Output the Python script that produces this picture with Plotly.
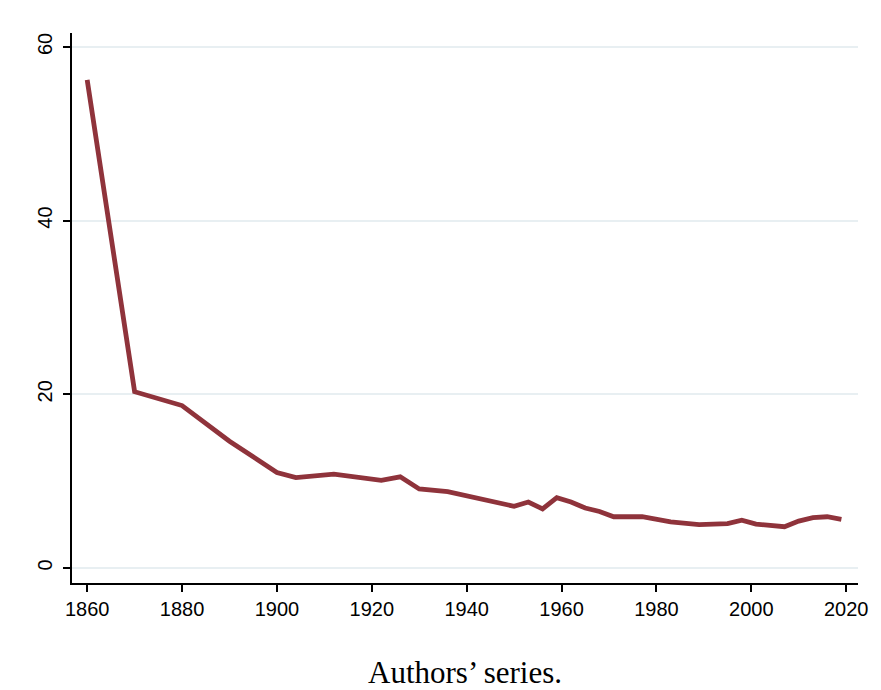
import plotly.graph_objects as go

years = [1860, 1870, 1880, 1890, 1900, 1904, 1912, 1922, 1926, 1930, 1936, 1950,
         1953, 1956, 1959, 1962, 1965, 1968, 1971, 1977, 1983, 1989, 1995, 1998,
         2001, 2007, 2010, 2013, 2016, 2019]
values = [56.2, 20.3, 18.7, 14.6, 11.0, 10.4, 10.8, 10.1, 10.5, 9.1, 8.8, 7.1,
          7.6, 6.8, 8.1, 7.6, 6.9, 6.5, 5.9, 5.9, 5.3, 5.0, 5.1, 5.5,
          5.05, 4.75, 5.4, 5.8, 5.9, 5.6]
x_ticks = [1860, 1880, 1900, 1920, 1940, 1960, 1980, 2000, 2020]
y_ticks = [0, 20, 40, 60]
caption = "Authors\u2019 series."

fig = go.Figure()
fig.add_trace(go.Scatter(x=years, y=values, mode="lines",
                         line=dict(color="#8f333b", width=4.8), showlegend=False))

fig.update_layout(
    width=881, height=690,
    margin=dict(l=72, r=23, t=33, b=107),
    paper_bgcolor="white", plot_bgcolor="white",
    font=dict(family="Liberation Sans, Arial, sans-serif", size=20, color="black"),
    xaxis=dict(range=[1856.8, 2022.5], tickvals=x_ticks, showgrid=False, zeroline=False,
               showline=True, linecolor="black", linewidth=1.5,
               ticks="outside", ticklen=7, tickwidth=1.5, tickcolor="black"),
    yaxis=dict(range=[-1.73, 61.6], tickvals=y_ticks, showgrid=True, gridcolor="#e8eff2",
               gridwidth=1.5, zeroline=False, showline=True, linecolor="black", linewidth=1.5,
               ticks="outside", ticklen=7, tickwidth=1.5, tickcolor="black", tickangle=-90,
               ticklabelstandoff=3),
    annotations=[dict(text=caption, x=0.5, y=0, xref="paper", yref="paper",
                      xanchor="center", yanchor="middle", yshift=-89, showarrow=False,
                      font=dict(family="Liberation Serif, DejaVu Serif, serif", size=31, color="black"))],
)
fig.write_html("out.html", config={"displayModeBar": False},
               post_script="document.body.style.margin='0px';document.body.style.padding='0px';")
